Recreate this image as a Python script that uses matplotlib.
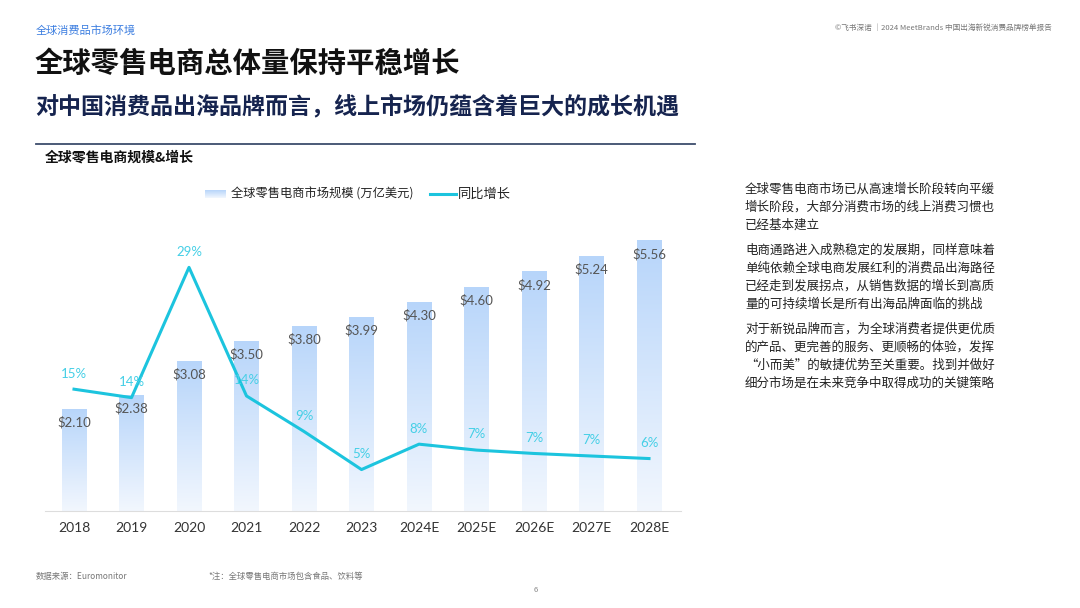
import matplotlib.pyplot as plt
import numpy as np
from matplotlib.colors import LinearSegmentedColormap
from matplotlib.lines import Line2D

plt.rcParams['font.family'] = ['Noto Sans CJK SC', 'DejaVu Sans']

# data
years = ["2018", "2019", "2020", "2021", "2022", "2023",
         "2024E", "2025E", "2026E", "2027E", "2028E"]
market_size = [2.10, 2.38, 3.08, 3.50, 3.80, 3.99, 4.30, 4.60, 4.92, 5.24, 5.56]
size_labels = ["$2.10", "$2.38", "$3.08", "$3.50", "$3.80", "$3.99",
               "$4.30", "$4.60", "$4.92", "$5.24", "$5.56"]
growth = [14.4, 13.4, 28.8, 13.6, 9.4, 4.9, 7.9, 7.2, 6.8, 6.5, 6.2]
growth_labels = ["15%", "14%", "29%", "14%", "9%", "5%", "8%", "7%", "7%", "7%", "6%"]

LINE_C = "#1cc4de"
LABEL_C = "#45cfe6"
BAR_TOP = "#b7d5fa"
BAR_BOT = "#f2f7fe"

fig = plt.figure(figsize=(10.8, 6.08), dpi=100)
W, H = 1080, 608

def fx(px):
    return px / W

def fy(py):
    return 1 - py / H

# header texts
fig.text(fx(36), fy(30), "全球消费品市场环境", color="#3b7de0", fontsize=8, va="center")
fig.text(fx(1052), fy(28), "©飞书深诺 ｜2024 MeetBrands 中国出海新锐消费品牌榜单报告",
         color="#777777", fontsize=5.5, va="center", ha="right")
fig.text(fx(35), fy(64), "全球零售电商总体量保持平稳增长", color="#111111",
         fontsize=20.4, fontweight="bold", va="center")
fig.text(fx(35), fy(106), "对中国消费品出海品牌而言，线上市场仍蕴含着巨大的成长机遇",
         color="#16244f", fontsize=16.6, fontweight="bold", va="center")
fig.add_artist(Line2D([fx(36), fx(695)], [fy(144), fy(144)], color="#3d4d6c", lw=1.3))
fig.text(fx(45), fy(158), "全球零售电商规模&增长", color="#111111", fontsize=10,
         fontweight="bold", va="center")

# right-hand commentary
paragraphs = [
    ["全球零售电商市场已从高速增长阶段转向平缓", "增长阶段，大部分消费市场的线上消费习惯也", "已经基本建立"],
    ["电商通路进入成熟稳定的发展期，同样意味着", "单纯依赖全球电商发展红利的消费品出海路径",
     "已经走到发展拐点，从销售数据的增长到高质", "量的可持续增长是所有出海品牌面临的挑战"],
    ["对于新锐品牌而言，为全球消费者提供更优质", "的产品、更完善的服务、更顺畅的体验，发挥",
     "“小而美”的敏捷优势至关重要。找到并做好", "细分市场是在未来竞争中取得成功的关键策略"],
]
y = 189
for para in paragraphs:
    for line in para:
        fig.text(fx(745), fy(y), line, color="#222222", fontsize=9, va="center")
        y += 18
    y += 7

# footer
fig.text(fx(36), fy(576), "数据来源：Euromonitor", color="#777777", fontsize=6, va="center")
fig.text(fx(208), fy(576), "*注：全球零售电商市场包含食品、饮料等", color="#777777",
         fontsize=6, va="center", style="italic")
fig.text(fx(536), fy(590), "6", color="#888888", fontsize=5.5, va="center", ha="center")

# chart axes
x = np.arange(len(years))
step = 57.5
left_px = 74 - 0.5 * step
ax = fig.add_axes([fx(left_px), fy(511), 11.05 * step / W, 280 / H])
ax.set_xlim(-0.5, 10.55)
ax.set_ylim(0, 280 / 48.7)
for s in ax.spines.values():
    s.set_visible(False)
ax.spines["bottom"].set_visible(True)
ax.spines["bottom"].set_color("#dddddd")
ax.set_yticks([])
ax.set_xticks(x)
ax.set_xticklabels(years, fontsize=10, color="#333333", family=["Lato", "DejaVu Sans"])
ax.tick_params(axis="x", length=0, pad=8)

cmap = LinearSegmentedColormap.from_list("bar", [BAR_BOT, BAR_TOP])
grad = np.linspace(0, 1, 256).reshape(-1, 1)
bw = 0.42
bars = ax.bar(x, market_size, width=bw, color="none", edgecolor="none")
for b, lab in zip(bars, size_labels):
    bx, bh = b.get_x(), b.get_height()
    im = ax.imshow(grad, cmap=cmap, origin="lower", aspect="auto",
                   extent=[bx, bx + bw, 0, bh], zorder=1)
    im.set_clip_path(b)
    ax.text(bx + bw / 2, bh - 0.28, lab, ha="center", va="center", fontsize=9.5,
            color="#555555", family=["Lato", "DejaVu Sans"], zorder=4)

ax2 = ax.twinx()
ax2.set_ylim(0, 280 / 8.46)
ax2.set_yticks([])
for s in ax2.spines.values():
    s.set_visible(False)
ax2.plot(x, growth, color=LINE_C, lw=2.2, zorder=3)
for xi, g, lab in zip(x, growth, growth_labels):
    ax2.text(xi, g + 1.85, lab, ha="center", va="center", fontsize=9.5,
             color=LABEL_C, family=["Lato", "DejaVu Sans"])

# legend
lg = fig.add_axes([fx(205), fy(198), 21 / W, 8 / H])
lg.imshow(np.linspace(1, 0, 64).reshape(-1, 1), cmap=cmap, aspect="auto")
lg.axis("off")
fig.text(fx(231), fy(194), "全球零售电商市场规模 (万亿美元)", fontsize=8.8,
         color="#222222", va="center")
fig.add_artist(Line2D([fx(430), fx(456)], [fy(194), fy(194)], color=LINE_C, lw=2.2))
fig.text(fx(458), fy(194), "同比增长", fontsize=9.5, color="#222222", va="center")

fig.savefig("out.png", dpi=100, facecolor="white")
